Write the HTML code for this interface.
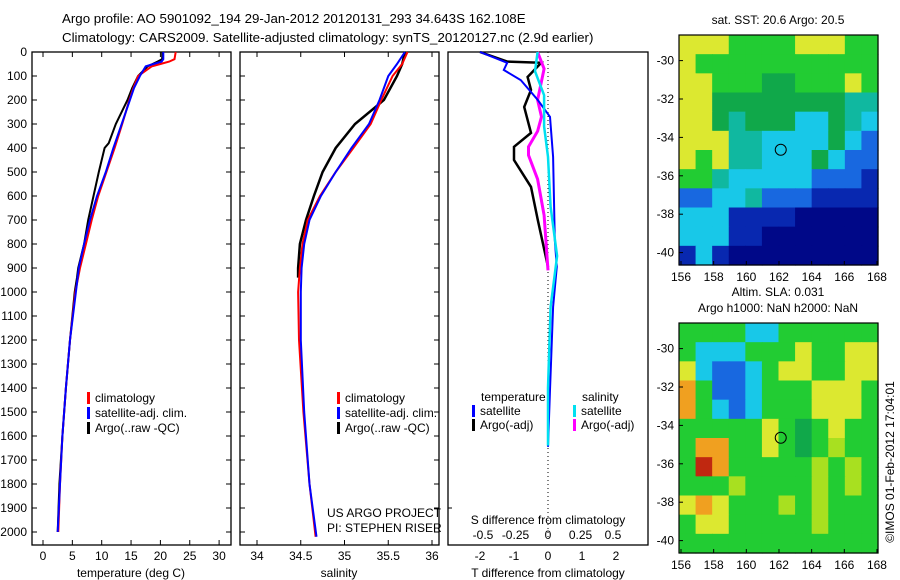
<!DOCTYPE html>
<html><head><meta charset="utf-8"><style>
html,body{margin:0;padding:0;background:#fff;}
svg{display:block;font-family:"Liberation Sans",sans-serif;}
</style></head><body>
<svg id="fig" width="900" height="580" viewBox="0 0 900 580" xmlns="http://www.w3.org/2000/svg">
<rect width="900" height="580" fill="#fff"/>
<text x="62" y="23" font-size="13.3">Argo profile: AO 5901092_194 29-Jan-2012 20120131_293 34.643S 162.108E</text>
<text x="62" y="42" font-size="13.3">Climatology: CARS2009. Satellite-adjusted climatology: synTS_20120127.nc (2.9d earlier)</text>
<g id="g"></g>
</svg>
<script>
// ---- profile data (depth in m) ----
const tDepth   = [0,30,40,50,60,100,150,200,250,300,400,500,600,700,800,900,1000,1200,1400,1600,1800,2000];
const tClim    = [22.6,22.4,21.5,20.0,18.5,16.2,15.4,14.7,14.1,13.5,12.2,10.8,9.4,8.3,7.3,6.3,5.5,4.6,3.9,3.3,2.9,2.6];
const tSat     = [20.5,20.5,20.2,18.8,17.5,16.5,15.5,14.8,14.1,13.4,12.0,10.7,9.2,8.0,7.0,6.1,5.6,4.6,3.9,3.3,2.9,2.5];
const argoDepth= [0,30,40,60,100,150,200,300,380,400,500,600,700,800,900,940,1000,1200,1400,1600,1800,2000];
const tArgo    = [20.3,20.3,19.5,17.8,16.2,15.2,14.4,12.4,11.2,10.5,9.5,8.6,7.7,7.0,6.0,5.8,5.4,4.6,3.9,3.3,2.8,2.5];
const sDepth   = [0,50,100,200,300,400,500,600,700,800,900,1000,1200,1500,1800,2020];
const sClim    = [35.72,35.66,35.55,35.42,35.3,35.1,34.9,34.72,34.58,34.52,34.49,34.47,34.48,34.53,34.6,34.67];
const sSat     = [35.69,35.6,35.5,35.4,35.28,35.08,34.9,34.73,34.6,34.54,34.51,34.5,34.5,34.54,34.6,34.68];
const sArgoDepth=[0,50,100,200,300,400,500,600,700,800,900,940];
const sArgo    = [35.69,35.66,35.6,35.45,35.12,34.9,34.75,34.65,34.56,34.49,34.47,34.47];
// difference panel
const dtSatDepth=[0,45,75,117,200,270,437,783,895,1062,1408,1645];
const dtSat    = [-2.0,-1.2,-1.3,-0.8,-0.3,0.06,0.15,0.2,0.26,0.15,0.06,0.0];
const dtArgoDepth=[0,40,45,104,158,229,337,395,450,562,700,895];
const dtArgo   = [-2.0,-1.2,-0.2,-0.6,-0.5,-0.7,-0.5,-1.0,-1.0,-0.5,-0.3,0.0];
const dsArgoDepth=[0,70,200,270,330,395,430,530,680,910];
const dsArgo   = [-0.08,-0.03,-0.08,-0.05,-0.08,-0.15,-0.15,-0.08,-0.03,0.0];
const dsSatDepth=[0,80,180,310,437,645,850,1062,1400,1640];
const dsSat    = [-0.08,-0.1,-0.03,-0.03,0.0,0.02,0.07,0.02,0.0,0.0];
// ticks
const depthTicks=[0,100,200,300,400,500,600,700,800,900,1000,1100,1200,1300,1400,1500,1600,1700,1800,1900,2000];
const tTicks=[0,5,10,15,20,25,30];
const sTicks=["34","34.5","35","35.5","36"];
const dtTicks=[-2,-1,0,1,2];
const dsTicks=["-0.5","-0.25","0","0.25","0.5"];
const lonTicks=[156,158,160,162,164,166,168];
const latTicks=[-30,-32,-34,-36,-38,-40];
// maps (coarse colour grids, 12 lon x 12 lat)
const sstGrid=["YYYGGGGYYYGG","YGGGGGGGGGGG","YYGGGggGGGYG","YYggggggggTT","YYgTgggCCgTC","YYYTTCCCCgCB","YGYTTCCCgCBB","GGTCCCCCBBBD","BBCCTBBBDDDD","CCCDDDDNNNNN","CCCDDNNNNNNN","DCDNNNNNNNNN"];
const slaGrid=["GGGGCCGGGGGG","GCCCGGGYGGYY","YCBBCGYYGGYY","OGBBCGGGYYYG","OGCBCGGGYYYG","GGGGGYGgGYGG","GOOGGYGgGLGG","GROGGGGGLGLG","GGGLGGGGLGLG","YOYGGGLGLGGG","GYYGGGGGLGGG","GGGGGGGGGGGG"];
const argoLon=162.108, argoLat=-34.643;

const NS="http://www.w3.org/2000/svg";
const G=document.getElementById('g');
function el(tag,at,parent){const e=document.createElementNS(NS,tag);for(const k in at)e.setAttribute(k,at[k]);(parent||G).appendChild(e);return e;}
function txt(x,y,s,size,anchor,parent){const e=el('text',{x:x,y:y,'font-size':size||12,'text-anchor':anchor||'start'},parent);e.textContent=s;return e;}

const yTop=52, pxPerM=0.24, yBot=545;
const yD=d=>yTop+d*pxPerM;
const xT=v=>43+v*5.87;
const xS=v=>257+(v-34)*87.5;
const xDT=v=>548+v*34;
const xDS=v=>548+v*130;

function panel(x0,x1,name){
  const r=el('rect',{x:x0,y:yTop,width:x1-x0,height:yBot-yTop,fill:'none',stroke:'#000','stroke-width':1.3});
  
  
  depthTicks.forEach(d=>{
    const t1=el('line',{x1:x0,x2:x0+5,y1:yD(d),y2:yD(d),stroke:'#000'});
    
    
    el('line',{x1:x1,x2:x1-5,y1:yD(d),y2:yD(d),stroke:'#000'});
  });
}
function line(xs,ds,xf,color,w,name){
  const pts=xs.map((v,i)=>xf(v).toFixed(1)+','+yD(ds[i]).toFixed(1)).join(' ');
  const p=el('polyline',{points:pts,fill:'none',stroke:color,'stroke-width':w});
  
  
}
function legend(x,y,color,label,name){
  const r=el('rect',{x:x,y:y-10,width:3,height:12,fill:color});
  
  
  const t=txt(x+8,y,label,12);
  
  
}

// panel 1
panel(32,231,'temperature-panel');
depthTicks.forEach(d=>{const t=txt(27,yD(d)+4,String(d),12,'end');});
tTicks.forEach(v=>{el('line',{x1:xT(v),x2:xT(v),y1:yBot,y2:yBot-5,stroke:'#000'});el('line',{x1:xT(v),x2:xT(v),y1:yTop,y2:yTop+5,stroke:'#000'});
  const t=txt(xT(v),560,String(v),12,'middle');});
line(tArgo,argoDepth,xT,'#000',2,'temp-argo-line');
line(tClim,tDepth,xT,'#ff0000',2,'temp-climatology-line');
line(tSat,tDepth,xT,'#0000ff',2,'temp-satellite-line');
let tt=txt(131,577,'temperature (deg C)',12,'middle');
legend(87,402,'#ff0000','climatology','legend-climatology');
legend(87,417,'#0000ff','satellite-adj. clim.','legend-satellite');
legend(87,432,'#000','Argo(..raw -QC)','legend-argo');

// panel 2
panel(240,439,'salinity-panel');
sTicks.forEach(s=>{const v=parseFloat(s);el('line',{x1:xS(v),x2:xS(v),y1:yBot,y2:yBot-5,stroke:'#000'});el('line',{x1:xS(v),x2:xS(v),y1:yTop,y2:yTop+5,stroke:'#000'});
  const t=txt(xS(v),560,s,12,'middle');});
line(sArgo,sArgoDepth,xS,'#000',2.5,'sal-argo-line');
line(sClim,sDepth,xS,'#ff0000',2,'sal-climatology-line');
line(sSat,sDepth,xS,'#0000ff',2,'sal-satellite-line');
tt=txt(339,577,'salinity',12,'middle');
legend(337,402,'#ff0000','climatology','legend-climatology-2');
legend(337,417,'#0000ff','satellite-adj. clim.','legend-satellite-2');
legend(337,432,'#000','Argo(..raw -QC)','legend-argo-2');
tt=txt(327,517,'US ARGO PROJECT',12);
tt=txt(327,532,'PI: STEPHEN RISER',12);

// panel 3
const r3=el('rect',{x:448,y:yTop,width:200,height:yBot-yTop,fill:'none',stroke:'#000','stroke-width':1.3});


el('line',{x1:448,x2:452,y1:yD(1900),y2:yD(1900),stroke:'#000'});
el('line',{x1:xDT(0),x2:xDT(0),y1:yTop,y2:yD(2030),stroke:'#000','stroke-dasharray':'1,3'});
dtTicks.forEach(v=>{const t=txt(xDT(v),560,String(v),12,'middle');});
dsTicks.forEach(s=>{const t=txt(xDS(parseFloat(s)),539,s,12,'middle');});
tt=txt(548,524,'S difference from climatology',12,'middle');
tt=txt(548,577,'T difference from climatology',12,'middle');
line(dtArgo,dtArgoDepth,xDT,'#000',2.5,'dt-argo-line');
line(dsArgo,dsArgoDepth,xDS,'#ff00ff',3,'ds-argo-line');
line(dtSat,dtSatDepth,xDT,'#0000ff',2,'dt-satellite-line');
line(dsSat,dsSatDepth,xDS,'#00e0f0',2.5,'ds-satellite-line');
tt=txt(481,401,'temperature',12);
tt=txt(582,401,'salinity',12);
legend(472,415,'#0000ff','satellite','legend-t-satellite');
legend(472,429,'#000','Argo(-adj)','legend-t-argo');
legend(573,415,'#00e0f0','satellite','legend-s-satellite');
legend(573,429,'#ff00ff','Argo(-adj)','legend-s-argo');

// maps
const colors={Y:'#dce830',G:'#22cc33',g:'#10a84a',T:'#10b8a0',C:'#18c8e8',B:'#1868e0',D:'#0828b0',N:'#000888',L:'#a8e020',O:'#f0a020',R:'#c02810'};
function map(grid,top,name,titles){
  const x0=679,x1=878,h=230;
  const lonX=v=>681+(v-156)*16.33;
  const latY=v=>top+25.6+(-30-v)*19.2;
  const ncol=grid[0].length,nrow=grid.length;
  const cw=(x1-x0)/ncol,ch=h/nrow;
  grid.forEach((row,ri)=>{for(let ci=0;ci<ncol;ci++){
    const c=el('rect',{x:(x0+ci*cw).toFixed(2),y:(top+ri*ch).toFixed(2),width:(cw+0.6).toFixed(2),height:(ch+0.6).toFixed(2),fill:colors[row[ci]]});
    
    
  }});
  const b=el('rect',{x:x0,y:top,width:x1-x0,height:h,fill:'none',stroke:'#000','stroke-width':1.2});
  
  
  lonTicks.forEach(v=>{el('line',{x1:lonX(v),x2:lonX(v),y1:top+h,y2:top+h-4,stroke:'#000'});
    const t=txt(lonX(v),top+h+16,String(v),12,'middle');});
  latTicks.forEach(v=>{el('line',{x1:x0,x2:x0+4,y1:latY(v),y2:latY(v),stroke:'#000'});
    const t=txt(674,latY(v)+4,String(v),12,'end');});
  const c=el('circle',{cx:lonX(argoLon),cy:latY(argoLat),r:5.5,fill:'none',stroke:'#000','stroke-width':1});
  
  
  titles.forEach((s,i)=>{const t=txt(778,titles.length===1?top-11:top-27+i*16,s,12,'middle');});
}
map(sstGrid,35,'sst-map',['sat. SST: 20.6 Argo: 20.5']);
map(slaGrid,323,'sla-map',['Altim. SLA: 0.031','Argo h1000: NaN h2000: NaN']);
tt=txt(0,0,'©IMOS 01-Feb-2012 17:04:01',12,'middle');
tt.setAttribute('transform','translate(894,462) rotate(-90)');


</script>
</body></html>
